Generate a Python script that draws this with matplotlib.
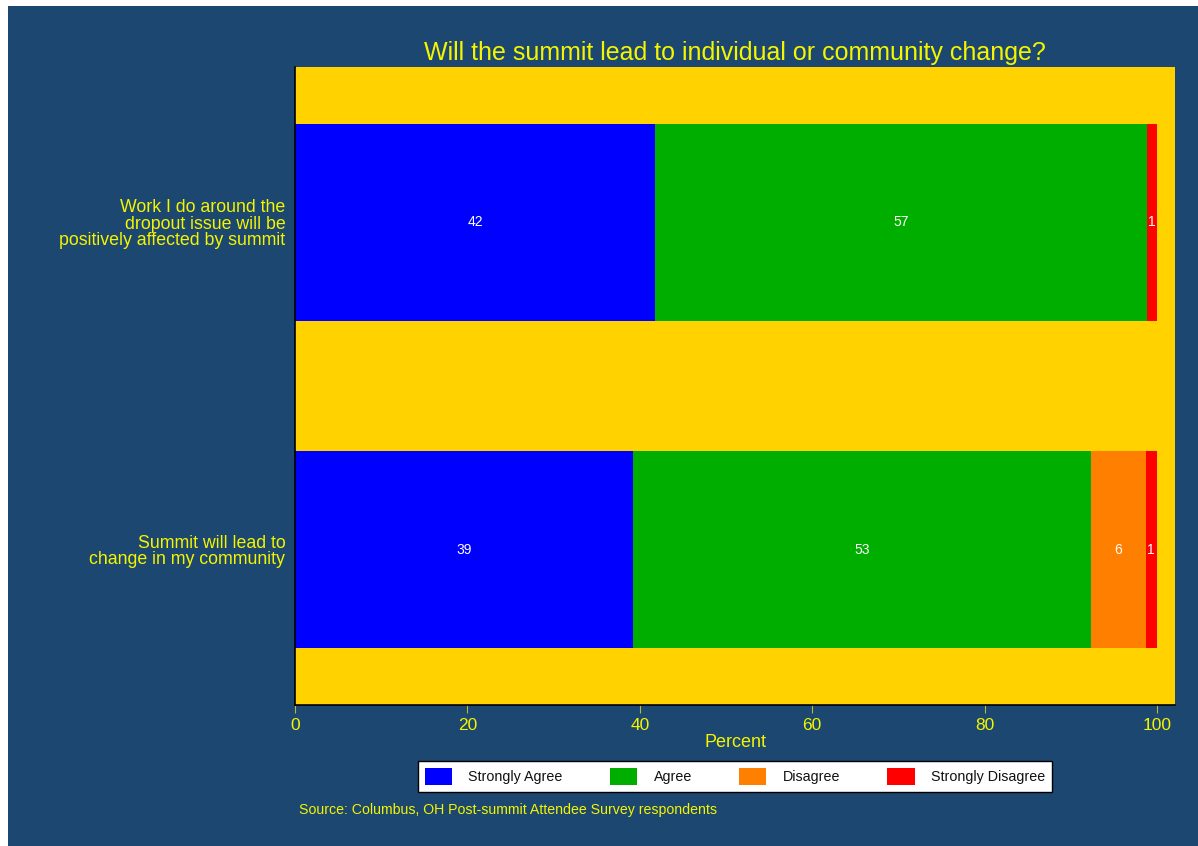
import matplotlib.pyplot as plt
from matplotlib.patches import Rectangle
import numpy as np

plt.rcParams['font.family'] = ['Liberation Sans', 'DejaVu Sans']

# data (percent of respondents)
questions = [
    "Summit will lead to\nchange in my community",
    "Work I do around the\ndropout issue will be\npositively affected by summit",
]
responses = ["Strongly Agree", "Agree", "Disagree", "Strongly Disagree"]
strongly_agree = [39.2, 41.8]
agree = [53.2, 57.0]
disagree = [6.3, 0.0]
strongly_disagree = [1.3, 1.2]
colors = ["#0000FF", "#00AE00", "#FF8000", "#FF0000"]

NAVY = "#1B4770"
GOLD = "#FFD200"
YELLOW = "#F5F500"

fig = plt.figure(figsize=(11.98, 8.46), dpi=100)
fig.patch.set_facecolor("white")
# navy panel with thin white margin top/left
fig.patches.append(Rectangle((8 / 1198, 0), 1, (846 - 6) / 846,
                             transform=fig.transFigure, facecolor=NAVY,
                             edgecolor="none", zorder=-10))

ax = fig.add_axes([295 / 1198, 1 - 705 / 846, 880 / 1198, 638 / 846])
ax.set_facecolor(GOLD)

series = [strongly_agree, agree, disagree, strongly_disagree]
ypos = np.arange(len(questions))
left = np.zeros(len(questions))
for vals, col, name in zip(series, colors, responses):
    vals = np.array(vals)
    ax.barh(ypos, vals, left=left, height=0.6, color=col, label=name)
    for y, l, v in zip(ypos, left, vals):
        if v > 0:
            ax.text(l + v / 2, y, f"{v:.0f}", color="white", fontsize=10,
                    ha="center", va="center")
    left = left + vals

ax.set_xlim(0, 102.1)
ax.set_ylim(-0.475, 1.475)
ax.set_xticks([0, 20, 40, 60, 80, 100])
ax.set_yticks(ypos)
ax.set_yticklabels(questions, linespacing=0.95)
ax.tick_params(axis="x", colors="#B8B840", labelcolor=YELLOW, labelsize=12.5,
               length=6, pad=3)
ax.tick_params(axis="y", length=0, labelcolor=YELLOW, labelsize=12.8, pad=7)
for s in ["top", "right"]:
    ax.spines[s].set_visible(False)
for s in ["left", "bottom"]:
    ax.spines[s].set_color("black")
    ax.spines[s].set_linewidth(1.2)

ax.set_xlabel("Percent", color=YELLOW, fontsize=13, labelpad=1)
ax.set_title("Will the summit lead to individual or community change?",
             color=YELLOW, fontsize=18, pad=5)

leg = ax.legend(loc="upper center", bbox_to_anchor=(0.5, -0.088), ncol=4,
                frameon=True, fancybox=False, fontsize=10.3, framealpha=1,
                handlelength=1.9, handleheight=1.4, columnspacing=3.3,
                handletextpad=1.15, borderpad=0.5, borderaxespad=0)
leg.get_frame().set_edgecolor("black")
leg.get_frame().set_facecolor("white")
leg.get_frame().set_linewidth(1.0)
for t in leg.get_texts():
    t.set_color("#111111")

fig.text(299 / 1198, 1 - 810 / 846,
         "Source: Columbus, OH Post-summit Attendee Survey respondents",
         color=YELLOW, fontsize=10.2, va="center", ha="left")

fig.savefig("out.png", dpi=100, facecolor=fig.get_facecolor())
